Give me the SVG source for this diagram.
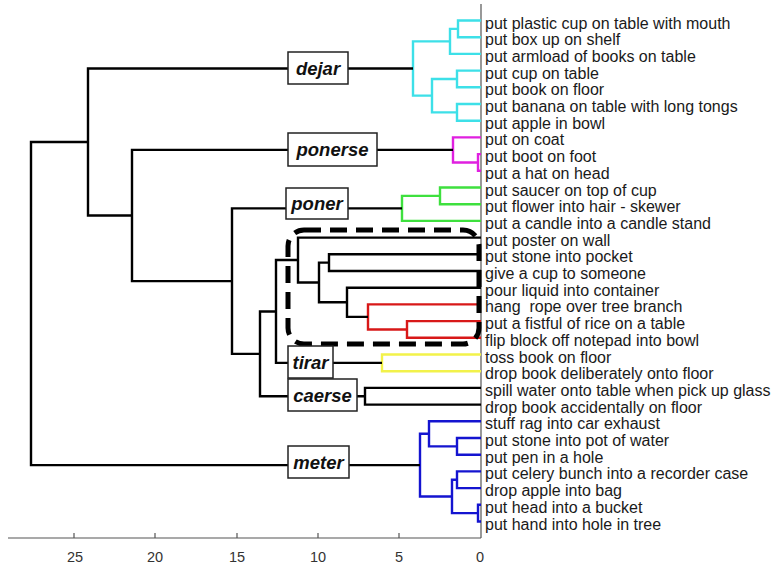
<svg xmlns="http://www.w3.org/2000/svg" width="774" height="566" viewBox="0 0 774 566">
<style>
.t{fill:none;stroke-width:2.4;stroke-linejoin:miter}
.k{stroke:#000}.c{stroke:#3de0e8}.m{stroke:#e020e0}.g{stroke:#3ee03e}.r{stroke:#d81818}.y{stroke:#f2f24a}.b{stroke:#1414d0}
.leaf{font-family:"Liberation Sans",Arial,sans-serif;font-size:16px;fill:#1a1a1a}
.lab rect{fill:#fff;stroke:#222;stroke-width:1.5}
.lab text{font-family:"Liberation Sans",Arial,sans-serif;font-size:18.5px;font-weight:bold;font-style:italic;fill:#111;text-anchor:middle}
.ax{stroke:#555;stroke-width:1.2;fill:none}
.tick{font-family:"Liberation Sans",Arial,sans-serif;font-size:14.5px;fill:#333;text-anchor:middle}
</style>
<rect width="774" height="566" fill="#fff"/>
<g id="axis">
<path class="ax" d="M8,538 H481 M74,538 V533 M155,538 V533 M237,538 V533 M318,538 V533 M399,538 V533 M481,4 V538"/>
<text class="tick" x="75" y="562">25</text>
<text class="tick" x="155" y="562">20</text>
<text class="tick" x="237" y="562">15</text>
<text class="tick" x="318" y="562">10</text>
<text class="tick" x="399" y="562">5</text>
<text class="tick" x="480" y="562">0</text>
</g>
<g id="connectors">
<path class="t c" d="M481,20.5 H458 V37.2 H481 M458,28.85 H450 V53.9 H481 M481,70.6 H457 V87.3 H481 M481,104 H457 V120.7 H481 M457,78.95 H432 V112.35 H457 M450,41.4 H413 V95.65 H432"/>
<path class="t m" d="M481,154.1 H478 V170.8 H481 M481,137.4 H453 V162.45 H478"/>
<path class="t g" d="M481,187.5 H440 V204.2 H481 M440,195.85 H402 V220.9 H481"/>
<path class="t r" d="M481,321.1 H407 V337.8 H481 M481,304.4 H368 V329.45 H407"/>
<path class="t y" d="M481,354.5 H382 V371.2 H481"/>
<path class="t b" d="M481,438 H457 V454.7 H481 M481,421.3 H429 V446.35 H457 M481,471.4 H457 V488.1 H481 M481,504.8 H478 V521.5 H481 M457,479.75 H452 V513.15 H478 M429,433.8 H420 V496.45 H452"/>
<path class="t k" d="M481,254.3 H329 V271 H481 M481,287.7 H347 V316.9 H368 M329,262.65 H319 V302.3 H347 M481,237.6 H298 V282.5 H319 M298,260.05 H276 V362.85 H382 M481,387.9 H365 V404.6 H481 M276,311.45 H260 V396.25 H365 M402,208.4 H232 V353.85 H260 M453,149.9 H132 V281.1 H232 M413,68.5 H88 V215.5 H132 M88,142 H31 V465.1 H420"/>
<rect x="288" y="230" width="191" height="114" rx="16" fill="none" stroke="#000" stroke-width="5" stroke-dasharray="17 9"/>
</g>
<g id="labels">
<g id="dejar" class="lab"><rect x="288" y="52" width="60" height="32"/><text x="318" y="74.5">dejar</text></g>
<g id="ponerse" class="lab"><rect x="288" y="133" width="89" height="33"/><text x="332.5" y="156">ponerse</text></g>
<g id="poner" class="lab"><rect x="286" y="188" width="62" height="31"/><text x="317" y="210">poner</text></g>
<g id="tirar" class="lab"><rect x="288" y="346" width="45" height="32"/><text x="310.5" y="368.5">tirar</text></g>
<g id="caerse" class="lab"><rect x="288" y="379" width="69" height="32"/><text x="322.5" y="401.5">caerse</text></g>
<g id="meter" class="lab"><rect x="288" y="446" width="61" height="32"/><text x="318.5" y="468.5">meter</text></g>
</g>
<g id="leaves" class="leaf">
<text x="485" y="28.5">put plastic cup on table with mouth</text>
<text x="485" y="45.2">put box up on shelf</text>
<text x="485" y="61.9">put armload of books on table</text>
<text x="485" y="78.6">put cup on table</text>
<text x="485" y="95.3">put book on floor</text>
<text x="485" y="112">put banana on table with long tongs</text>
<text x="485" y="128.7">put apple in bowl</text>
<text x="485" y="145.4">put on coat</text>
<text x="485" y="162.1">put boot on foot</text>
<text x="485" y="178.8">put a hat on head</text>
<text x="485" y="195.5">put saucer on top of cup</text>
<text x="485" y="212.2">put flower into hair - skewer</text>
<text x="485" y="228.9">put a candle into a candle stand</text>
<text x="485" y="245.6">put poster on wall</text>
<text x="485" y="262.3">put stone into pocket</text>
<text x="485" y="279">give a cup to someone</text>
<text x="485" y="295.7">pour liquid into container</text>
<text x="485" y="312.4" xml:space="preserve">hang  rope over tree branch</text>
<text x="485" y="329.1">put a fistful of rice on a table</text>
<text x="485" y="345.8">flip block off notepad into bowl</text>
<text x="485" y="362.5">toss book on floor</text>
<text x="485" y="379.2">drop book deliberately onto floor</text>
<text x="485" y="395.9">spill water onto table when pick up glass</text>
<text x="485" y="412.6">drop book accidentally on floor</text>
<text x="485" y="429.3">stuff rag into car exhaust</text>
<text x="485" y="446">put stone into pot of water</text>
<text x="485" y="462.7">put pen in a hole</text>
<text x="485" y="479.4">put celery bunch into a recorder case</text>
<text x="485" y="496.1">drop apple into bag</text>
<text x="485" y="512.8">put head into a bucket</text>
<text x="485" y="529.5">put hand into hole in tree</text>
</g>
</svg>
